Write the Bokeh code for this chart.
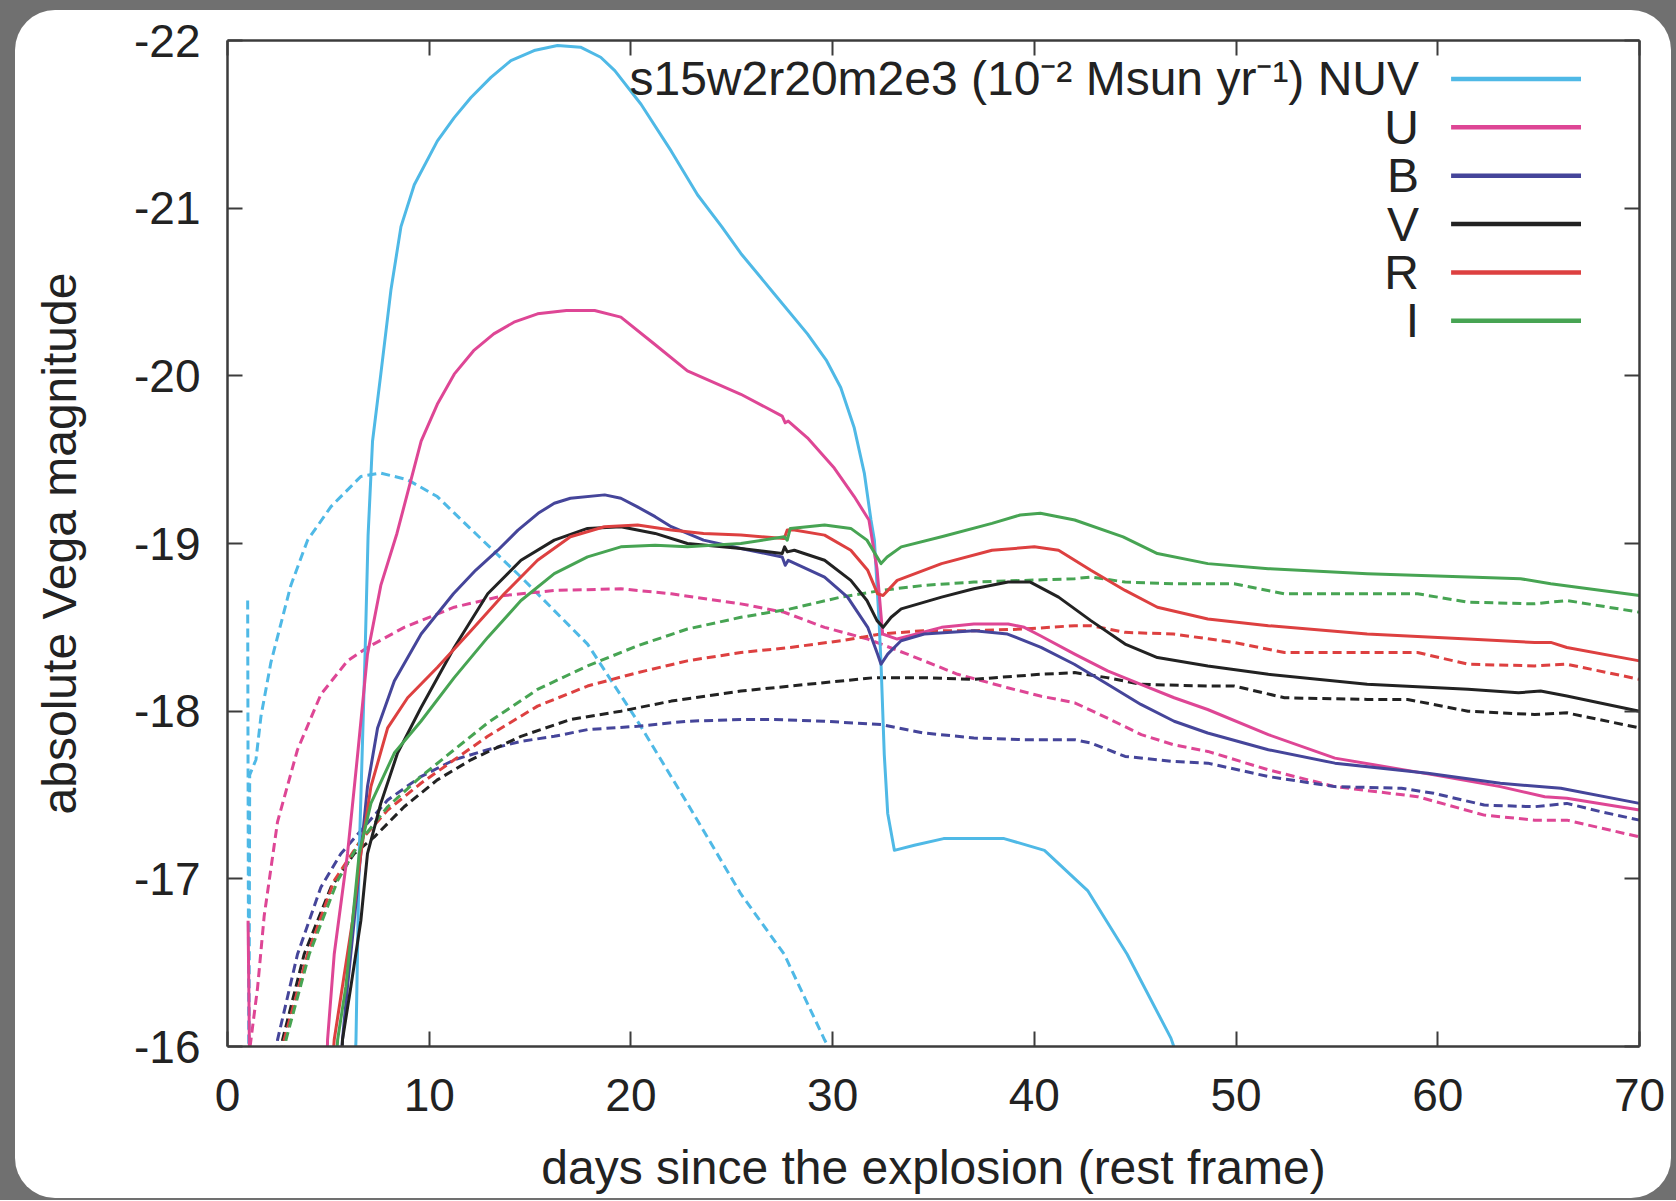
from urllib.parse import quote
from bokeh.plotting import figure
from bokeh.models import Range1d, LinearAxis, FixedTicker, Label
from bokeh.embed import file_html
from bokeh.resources import INLINE

# ---------------- data ----------------
# solid lines: s15w2r20m2e3 model, 10^-2 Msun/yr
nuv_day = [6.2, 6.37, 6.53, 6.82, 6.97, 7.19, 7.6, 8.1, 8.6, 9.26, 10.4, 11.24, 12.07, 13.06, 14.05, 15.2,
           16.36, 17.5, 18.5, 19.2, 20.5, 22.0, 23.3, 24.5, 25.45, 27.1, 28.75, 29.7, 30.4, 31.07, 31.57,
           31.9, 32.07, 32.3, 32.4, 32.56, 32.73, 33.06, 34.05, 35.5, 38.5, 40.5, 42.64, 44.6, 46.77, 47.2]
nuv_mag = [-15.5, -16.04, -17.15, -18.34, -19.05, -19.61, -20.01, -20.51, -20.89, -21.14, -21.40, -21.54,
           -21.66, -21.78, -21.88, -21.94, -21.97, -21.96, -21.90, -21.82, -21.62, -21.34, -21.08, -20.89,
           -20.73, -20.49, -20.25, -20.09, -19.93, -19.69, -19.42, -19.14, -19.02, -18.54, -18.28, -17.74,
           -17.39, -17.17, -17.20, -17.24, -17.24, -17.17, -16.93, -16.55, -16.05, -15.9]

u_day = [1.02, 1.07, 1.15, 4.8, 4.96, 5.29, 5.95, 6.45, 6.94, 7.6, 8.4, 9.6, 10.4, 11.24, 12.2, 13.2, 14.2,
         15.37, 16.8, 18.2, 19.5, 21.16, 22.8, 25.45, 27.5, 27.65, 27.8, 28.75, 30.08, 31.07, 31.8, 32.2,
         32.48, 33.2, 35.4, 37.0, 38.7, 39.5, 40.3, 42.0, 43.63, 45.28, 46.93, 48.59, 51.6, 54.9, 59.8,
         63.1, 65.3, 66.4, 70.0]
u_mag = [-16.75, -16.2, -15.0, -15.0, -16.04, -16.55, -17.15, -17.74, -18.34, -18.75, -19.06, -19.61,
         -19.83, -20.01, -20.15, -20.25, -20.32, -20.37, -20.39, -20.39, -20.35, -20.19, -20.03, -19.89,
         -19.76, -19.72, -19.73, -19.63, -19.45, -19.28, -19.14, -18.85, -18.46, -18.43, -18.50, -18.52,
         -18.52, -18.50, -18.45, -18.34, -18.24, -18.16, -18.08, -18.01, -17.86, -17.72, -17.62, -17.55,
         -17.49, -17.48, -17.41]

b_day = [5.5, 5.7, 5.95, 6.28, 6.61, 6.94, 7.44, 8.27, 9.6, 11.2, 12.3, 13.4, 14.4, 15.4, 16.2, 17.0, 18.7,
         19.5, 20.3, 21.2, 22.0, 23.6, 25.45, 27.5, 27.65, 27.8, 29.6, 30.74, 31.74, 32.23, 32.4, 32.73,
         33.39, 34.54, 37.02, 38.67, 40.33, 41.98, 43.63, 45.28, 46.93, 48.59, 51.6, 54.9, 59.5, 63.1,
         66.1, 70.0]
b_mag = [-15.7, -16.04, -16.36, -16.75, -17.15, -17.55, -17.9, -18.18, -18.46, -18.70, -18.84, -18.96,
         -19.08, -19.18, -19.24, -19.27, -19.29, -19.27, -19.22, -19.16, -19.10, -19.02, -18.97, -18.92,
         -18.87, -18.90, -18.80, -18.68, -18.50, -18.34, -18.28, -18.34, -18.42, -18.46, -18.48, -18.46,
         -18.38, -18.28, -18.16, -18.04, -17.94, -17.87, -17.77, -17.69, -17.63, -17.57, -17.54, -17.45]

v_day = [5.6, 5.7, 6.12, 6.61, 6.94, 7.6, 8.43, 9.59, 11.24, 12.9, 14.55, 16.2, 17.85, 19.5, 21.2, 22.8,
         25.45, 27.5, 27.62, 27.75, 28.1, 29.6, 30.9, 31.7, 32.2, 32.5, 32.9, 33.4, 35.4, 37.0, 38.7, 39.8,
         41.2, 42.8, 44.5, 46.1, 48.6, 51.6, 56.5, 61.5, 64.0, 65.1, 66.4, 70.0]
v_mag = [-15.7, -16.04, -16.36, -16.75, -17.15, -17.45, -17.75, -18.02, -18.38, -18.70, -18.90, -19.02,
         -19.09, -19.10, -19.06, -19.0, -18.97, -18.94, -18.98, -18.95, -18.96, -18.90, -18.78, -18.66,
         -18.54, -18.50, -18.56, -18.61, -18.68, -18.73, -18.77, -18.77, -18.68, -18.54, -18.40, -18.32,
         -18.27, -18.22, -18.16, -18.13, -18.11, -18.12, -18.09, -18.0]

r_day = [5.1, 5.29, 5.7, 6.2, 6.61, 7.11, 7.94, 8.93, 10.4, 12.07, 13.72, 15.37, 17.0, 18.68, 20.33, 22.0,
         23.6, 25.45, 27.6, 27.75, 28.1, 29.6, 30.9, 31.74, 32.23, 32.5, 33.2, 35.4, 37.9, 40.0, 41.2, 42.8,
         44.5, 46.1, 48.6, 51.6, 56.5, 61.5, 64.8, 65.6, 66.4, 70.0]
r_mag = [-15.7, -16.04, -16.36, -16.75, -17.15, -17.55, -17.90, -18.08, -18.26, -18.48, -18.70, -18.90,
         -19.04, -19.10, -19.11, -19.08, -19.06, -19.05, -19.03, -19.08, -19.08, -19.05, -18.96, -18.84,
         -18.70, -18.69, -18.78, -18.88, -18.96, -18.98, -18.96, -18.84, -18.72, -18.62, -18.55, -18.51,
         -18.46, -18.43, -18.41, -18.41, -18.38, -18.30]

i_day = [5.3, 5.46, 5.87, 6.2, 6.53, 7.11, 8.27, 9.59, 11.24, 12.9, 14.55, 16.2, 17.85, 19.5, 21.2, 22.8,
         25.45, 27.6, 27.75, 27.9, 29.6, 30.9, 31.7, 32.4, 32.7, 33.4, 35.4, 37.9, 39.3, 40.3, 42.0, 44.4,
         46.1, 48.6, 51.6, 56.5, 61.5, 64.1, 65.6, 70.0]
i_mag = [-15.7, -16.04, -16.36, -16.75, -17.15, -17.45, -17.75, -17.94, -18.20, -18.44, -18.66, -18.82,
         -18.92, -18.98, -18.99, -18.98, -19.0, -19.04, -19.02, -19.09, -19.11, -19.09, -19.02, -18.88,
         -18.92, -18.98, -19.04, -19.12, -19.17, -19.18, -19.14, -19.04, -18.94, -18.88, -18.85, -18.82,
         -18.80, -18.79, -18.76, -18.69]

# dashed lines (second model)
nuv2_day = [1.0, 1.06, 1.1, 1.41, 1.66, 2.15, 3.14, 3.97, 5.13, 6.61, 7.6, 8.93, 10.4, 11.6, 14.55, 17.85,
            20.33, 22.8, 25.45, 27.6, 29.6, 30.2]
nuv2_mag = [-18.66, -15.5, -17.62, -17.71, -17.97, -18.29, -18.75, -19.02, -19.22, -19.40, -19.42, -19.38,
            -19.28, -19.14, -18.80, -18.40, -17.94, -17.45, -16.91, -16.55, -16.04, -15.9]

u2_day = [1.12, 1.49, 1.82, 2.48, 3.47, 4.63, 5.95, 6.94, 8.76, 11.24, 13.72, 16.2, 19.5, 22.0, 25.45, 27.6,
          29.6, 31.74, 33.7, 36.2, 38.67, 40.3, 42.0, 43.6, 45.3, 46.9, 48.6, 51.6, 54.9, 59.0, 62.3, 64.8,
          66.4, 70.0]
u2_mag = [-16.0, -16.35, -16.78, -17.34, -17.77, -18.10, -18.30, -18.38, -18.50, -18.62, -18.69, -18.72,
          -18.73, -18.70, -18.64, -18.59, -18.50, -18.43, -18.34, -18.22, -18.14, -18.09, -18.05, -17.96,
          -17.86, -17.80, -17.76, -17.65, -17.55, -17.49, -17.38, -17.35, -17.35, -17.25]

b2_day = [2.3, 2.48, 3.47, 4.63, 5.62, 6.78, 7.94, 9.59, 11.24, 12.9, 14.55, 16.2, 17.85, 20.33, 22.8, 25.45,
          27.1, 29.6, 32.4, 34.5, 37.0, 39.5, 42.0, 42.8, 44.5, 46.9, 48.6, 51.6, 54.9, 58.2, 59.8, 62.3,
          64.8, 66.4, 68.1, 70.0]
b2_mag = [-15.7, -16.04, -16.55, -16.95, -17.15, -17.31, -17.47, -17.61, -17.71, -17.77, -17.82, -17.85,
          -17.89, -17.91, -17.94, -17.95, -17.95, -17.94, -17.92, -17.87, -17.84, -17.83, -17.83, -17.81,
          -17.73, -17.70, -17.69, -17.61, -17.55, -17.54, -17.51, -17.44, -17.43, -17.45, -17.40, -17.35]

v2_day = [2.5, 2.73, 3.8, 5.13, 6.28, 7.28, 8.76, 10.4, 12.07, 14.55, 17.0, 19.5, 22.0, 25.45, 28.75, 32.07,
          34.5, 37.0, 40.3, 42.0, 43.6, 45.3, 48.6, 49.9, 52.4, 56.5, 58.5, 61.5, 64.8, 66.4, 70.0]
v2_mag = [-15.7, -16.04, -16.55, -16.95, -17.15, -17.25, -17.43, -17.59, -17.71, -17.85, -17.95, -18.0,
          -18.06, -18.12, -18.16, -18.20, -18.20, -18.19, -18.22, -18.23, -18.20, -18.16, -18.15, -18.15,
          -18.08, -18.07, -18.07, -18.0, -17.98, -17.99, -17.9]

r2_day = [2.6, 2.81, 3.97, 5.29, 6.61, 7.94, 9.59, 11.24, 12.9, 15.37, 17.85, 20.33, 22.8, 25.45, 27.9, 30.4,
          32.4, 34.5, 37.0, 39.5, 42.0, 42.8, 44.5, 46.9, 49.9, 52.4, 56.5, 59.0, 61.5, 64.8, 66.4, 70.0]
r2_mag = [-15.7, -16.04, -16.55, -16.99, -17.23, -17.41, -17.57, -17.71, -17.85, -18.03, -18.15, -18.23,
          -18.30, -18.35, -18.38, -18.42, -18.46, -18.48, -18.48, -18.49, -18.51, -18.51, -18.47, -18.46,
          -18.41, -18.35, -18.35, -18.35, -18.28, -18.27, -18.28, -18.19]

i2_day = [2.7, 2.9, 4.05, 5.46, 6.61, 7.94, 9.59, 11.24, 12.9, 15.37, 17.85, 20.33, 22.8, 25.45, 27.9, 30.4,
          32.4, 34.5, 37.0, 39.5, 42.0, 42.8, 44.5, 46.9, 49.9, 52.4, 56.5, 59.0, 61.5, 64.8, 66.4, 70.0]
i2_mag = [-15.7, -16.04, -16.55, -16.99, -17.23, -17.43, -17.61, -17.77, -17.93, -18.13, -18.27, -18.39,
          -18.49, -18.56, -18.61, -18.68, -18.72, -18.75, -18.77, -18.78, -18.79, -18.80, -18.77, -18.76,
          -18.76, -18.70, -18.70, -18.70, -18.65, -18.64, -18.66, -18.59]

bands = ["NUV", "U", "B", "V", "R", "I"]
band_colors = ["#4fb9e6", "#de4695", "#45459a", "#222222", "#dd4040", "#47a453"]
legend_labels = ["s15w2r20m2e3 (10\u207b\u00b2 Msun yr\u207b\u00b9) NUV", "U", "B", "V", "R", "I"]
x_ticks = [0, 10, 20, 30, 40, 50, 60, 70]
y_ticks = [-22, -21, -20, -19, -18, -17, -16]

solid = [(nuv_day, nuv_mag), (u_day, u_mag), (b_day, b_mag), (v_day, v_mag), (r_day, r_mag), (i_day, i_mag)]
dashed = [(nuv2_day, nuv2_mag), (u2_day, u2_mag), (b2_day, b2_mag), (v2_day, v2_mag), (r2_day, r2_mag),
          (i2_day, i2_mag)]

# ---------------- figure ----------------
W, H = 1676, 1200
FONT = "Liberation Sans"
TXT = "#222222"
AX = "#3c3c3c"

# page look: grey backdrop with a white rounded card (CSS background of the plot element)
card_svg = ("<svg xmlns='http://www.w3.org/2000/svg' width='%d' height='%d'>"
            "<rect x='15' y='10' width='1656' height='1188' rx='40' ry='40' fill='white'/></svg>") % (W, H)
page_styles = {
    "background-color": "#707070",
    "background-image": 'url("data:image/svg+xml,%s")' % quote(card_svg),
    "background-repeat": "no-repeat",
}

p = figure(width=W, height=H, output_backend="svg", toolbar_location=None,
           x_range=Range1d(0, 70), y_range=Range1d(-16, -22),
           min_border_left=227, min_border_right=37, min_border_top=40, min_border_bottom=154,
           styles=page_styles)
p.grid.visible = False
p.outline_line_color = None
p.border_fill_color = None
p.background_fill_color = "white"


def style_axis(ax, ticks, show_labels):
    ax.ticker = FixedTicker(ticks=ticks)
    ax.major_tick_in = 15
    ax.major_tick_out = 0
    ax.minor_tick_line_color = None
    ax.axis_line_color = AX
    ax.axis_line_width = 2.5
    ax.major_tick_line_color = AX
    ax.major_tick_line_width = 2
    ax.major_label_text_font = FONT
    ax.major_label_text_color = TXT
    if show_labels:
        ax.major_label_text_font_size = "46px"
        ax.major_label_overrides = {t: str(t) for t in ticks}
    else:
        ax.major_label_text_font_size = "0px"
        ax.major_label_text_alpha = 0


xa = p.xaxis[0]
ya = p.yaxis[0]
style_axis(xa, x_ticks, True)
style_axis(ya, y_ticks, True)
xa.major_label_standoff = 32
ya.major_label_standoff = 27
xa.axis_label = "days since the explosion (rest frame)"
ya.axis_label = "absolute Vega magnitude"
for ax in (xa, ya):
    ax.axis_label_text_font = FONT
    ax.axis_label_text_font_size = "48px"
    ax.axis_label_text_font_style = "normal"
    ax.axis_label_text_color = TXT
xa.axis_label_standoff = 27
ya.axis_label_standoff = 45

top_ax = LinearAxis()
style_axis(top_ax, x_ticks, False)
p.add_layout(top_ax, "above")
right_ax = LinearAxis()
style_axis(right_ax, y_ticks, False)
p.add_layout(right_ax, "right")

for (d, m), c in zip(dashed, band_colors):
    assert len(d) == len(m)
    p.line(d, m, line_color=c, line_width=3, line_dash="9 5", line_join="round")
for (d, m), c in zip(solid, band_colors):
    assert len(d) == len(m)
    p.line(d, m, line_color=c, line_width=3, line_join="round")

# legend (text right-aligned, line sample to its right)
leg_text_x = 59.07
leg_line_x0, leg_line_x1 = 60.66, 67.1
leg_y0, leg_dy = -21.771, 0.2885
rows_y = [leg_y0 + k * leg_dy for k in range(len(bands))]
p.segment(x0=[leg_line_x0] * len(bands), y0=rows_y, x1=[leg_line_x1] * len(bands), y1=rows_y,
          line_color=band_colors, line_width=4.5)
for lab, yy in zip(legend_labels, rows_y):
    p.add_layout(Label(x=leg_text_x, y=yy, text=lab, text_align="right", text_baseline="middle",
                       text_font=FONT, text_font_size="48px", text_color=TXT))

open("out.html", "w").write(file_html(p, INLINE))
